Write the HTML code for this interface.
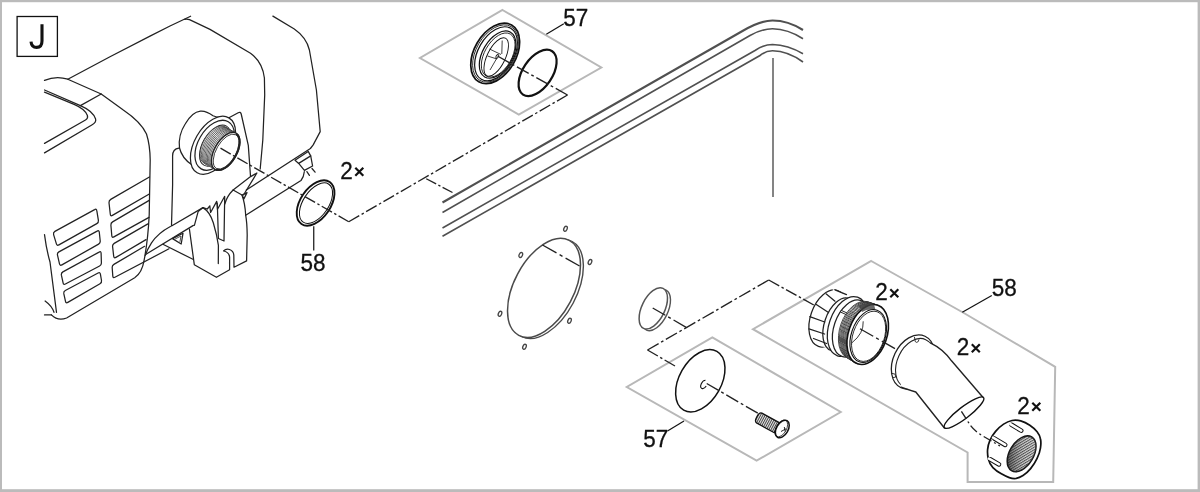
<!DOCTYPE html>
<html><head><meta charset="utf-8"><title>J</title>
<style>
html,body{margin:0;padding:0;background:#fff}
body{width:1200px;height:492px;overflow:hidden;position:relative;font-family:"Liberation Sans",sans-serif}
svg{position:absolute;left:0;top:0;display:block}
text{font-family:"Liberation Sans",sans-serif;fill:#111;stroke:#111;stroke-width:0.3}
.m{fill:none;stroke:#222;stroke-width:1.25;stroke-linecap:round;stroke-linejoin:round}
.t{fill:none;stroke:#505050;stroke-width:1.6;stroke-linecap:butt}
.g{fill:none;stroke:#b8b8b8;stroke-width:2.0;stroke-linejoin:miter}
.d{fill:none;stroke:#222;stroke-width:1.35;stroke-dasharray:12.8 3 2 3}
.k{fill:none;stroke:#111;stroke-width:1.2}
.w{fill:#fff;stroke:#222;stroke-width:1.25;stroke-linejoin:round}
</style></head><body>
<svg width="1200" height="492" viewBox="0 0 1200 492">
<defs>
<linearGradient id="ng" x1="0" y1="1" x2="1" y2="0"><stop offset="0" stop-color="#111" stop-opacity="0.95"/><stop offset="0.3" stop-color="#333" stop-opacity="0.45"/><stop offset="0.6" stop-color="#888" stop-opacity="0.1"/><stop offset="1" stop-color="#fff" stop-opacity="0.3"/></linearGradient>
<filter id="nf" x="0" y="0" width="1200" height="492" filterUnits="userSpaceOnUse"><feOffset dx="0" dy="0"/></filter>
<pattern id="hatch" width="2.2" height="2.2" patternUnits="userSpaceOnUse" patternTransform="rotate(-62)">
<rect width="2.2" height="2.2" fill="#ddd"/><rect width="2.2" height="1.0" fill="#444"/>
</pattern>
<pattern id="hatch2" width="2" height="2" patternUnits="userSpaceOnUse" patternTransform="rotate(-62)">
<rect width="2" height="2" fill="#e8e8e8"/><rect width="2" height="0.9" fill="#333"/>
</pattern>
</defs>
<g fill="#bbb">
<rect x="0" y="0" width="1200" height="2.2"/>
<rect x="0" y="0" width="2" height="492"/>
<rect x="1197.6" y="0" width="2.4" height="492"/>
<rect x="0" y="489.2" width="1200" height="2.8"/>
</g>
<rect x="17.1" y="16.5" width="40.3" height="39.9" fill="#fff" stroke="#111" stroke-width="1.3"/>
<path d="M42,24.2 V41 C42,45.5 40,47.4 36.6,47.4 C33.2,47.4 31.4,45.6 31,41.6" fill="none" stroke="#111" stroke-width="3.1"/>
<path class="g" d="M502.5,10 L601.3,67.5 L518.8,114.5 L420,58 Z"/>
<path class="g" d="M712.3,337.4 L840.7,412 L756.6,460.7 L626.8,387 Z"/>
<path class="g" d="M871.2,261 L963,312.5 L1055.2,366.8 L1053.2,482.1 L967.6,482.1 L967.6,452.5 L753,329.2 Z"/>
<g class="m">
<path d="M67.8,79.2 L110,56.8 L150,36.1 L170,26 L190.6,16.2"  />
<path d="M184.6,19.3 Q187,18.7 189.5,19.6 L210,29.4 L250.5,53.3 Q262.5,62 264.4,78 L264.7,95 L262.8,140 L260.2,169"  />
<path d="M272.9,16.1 L294.3,29 Q306.5,37.5 309.4,50 L316.4,90 L320.2,131.6 L313.2,144.9 L310.4,148.5 L246.3,190"  />
<path d="M44.5,80.4 Q56,75.5 67.8,79.2 L101.2,94 L123.3,110 Q141,122 146.5,134 Q150,145 150.2,160 L149.2,215 Q148,240 144.1,260.4 Q142,273 134.7,277.7 L66.6,318 Q58,321.5 51.4,314.9"  />
<path d="M101.2,94 L80.4,105.6"  />
<path d="M44.5,90 L80.4,105.6 Q93,111 95.6,119 Q96.5,122.5 91.8,125 L44.5,152.9"  />
<path d="M44.5,92.2 L74.1,104.4 Q85,109 87.4,115.5 Q88.3,118.5 85.5,120 L44.5,143.4"  />
<path d="M44.5,234.6 Q46.5,250 50,262 L56.5,312.3"  />
<path d="M45.1,301 Q52,306 54,312.3"  />
<path d="M44.5,314.9 L51.4,314.9"  />
<path d="M53.6,234.6 Q53.0,232.5 54.9,231.4 L94.6,209.6 Q96.5,208.5 96.8,210.7 L98.4,220.3 Q98.7,222.5 96.8,223.6 L58.9,244.9 Q57.0,246.0 56.4,243.9 Z"  />
<path d="M57.5,255.1 Q57.0,253.0 58.9,251.9 L97.1,231.1 Q99.0,230.0 99.3,232.2 L100.2,240.8 Q100.5,243.0 98.6,244.1 L61.9,264.9 Q60.0,266.0 59.5,263.9 Z"  />
<path d="M61.4,275.2 Q61.0,273.0 62.9,271.9 L99.1,252.1 Q101.0,251.0 101.1,253.2 L101.4,262.8 Q101.5,265.0 99.6,266.0 L65.4,284.0 Q63.5,285.0 63.1,282.8 Z"  />
<path d="M63.8,293.7 Q63.4,291.5 65.3,290.5 L98.1,273.0 Q100.0,272.0 100.4,274.2 L101.5,280.5 Q101.9,282.7 100.0,283.8 L67.8,302.4 Q65.9,303.5 65.5,301.3 Z"  />
<path d="M149.4,177.0 L110.7,199.4 Q108.8,200.5 109.0,202.7 L110.3,214.3 Q110.5,216.5 112.4,215.4 L149.3,194.0 "  />
<path d="M149.2,200.4 L112.6,221.9 Q110.7,223.0 110.9,225.2 L111.8,235.8 Q112.0,238.0 113.9,236.9 L149.0,217.4 "  />
<path d="M147.9,223.9 L114.2,243.4 Q112.3,244.5 112.6,246.7 L113.7,256.3 Q114.0,258.5 115.9,257.4 L146.0,239.6 "  />
<path d="M144.6,246.3 L113.9,264.4 Q112.0,265.5 112.2,267.7 L112.8,276.1 Q113.0,278.3 114.9,277.3 L169.0,248.8 "  />
<path d="M193.4,225.4 L146,254.3"  />
<path d="M178.9,148.2 Q172.6,149 172.6,156 L172.6,185 L171.5,226 L203,207.6"  />
<path d="M191.5,164.6 Q182,158 179.5,148 Q178,135 185.2,124 Q192,112 200.4,111.1 Q206,110.5 213,115.8 Q220,119 228,118.3"  />
<path d="M228,118.3 L238.2,112.7 Q240.5,111.5 241.2,114 L248.3,145.4 L250.5,176"  />
<path d="M170.4,226.5 Q158,233 151.5,242.9 Q147,250 145.2,255.5"  />
<path d="M194.4,225.3 L198.2,211.4 L203,207.6"  />
<path d="M203,207.6 Q210,212 213.3,222.7 Q217,235 218.4,245.4 L218.3,263.5"  />
<path d="M189.4,229 L194.3,264.7 L216.4,277.3 L229.6,269.8 L229.6,257 Q229,252 223.5,251 Q226,248.5 229.5,249.5 Q233.5,251 233.8,255 L234,267.2 L246.6,260.9 L247.2,235 Q247,222 245.7,215.3 Q245,203 242,195 L233.1,190 Q227,196 224.8,204"  />
<path d="M203,207.6 L207.3,209 L209.8,205.8 L210.6,212.5 L216.7,201.4 L217.4,209.5 L224.3,197 L224.7,196.5 L224,241 L218.4,238.5 L217.3,203"  />
<path d="M242,195 L247,192.6 L243.9,198.9 Z"  />
<path d="M233.1,190 L250.6,176.6 L256.9,173 L243.5,195"  />
<path d="M245.7,215.3 L301,180.5 Q303.8,177 304.3,171.7"  />
<path d="M162.9,244.3 L193.4,259.5"  />
<path d="M172.5,238.6 L183,233.3 L181.2,244 Z"  />
<path d="M175.5,238.8 L181,236 L180,241.5"  style="stroke-width:0.8"/>
<path d="M295,160.3 L308.2,151.4 L310.7,155.9 L298.7,163.4 Z"  />
<path d="M298.7,163.4 L304.4,170.4 L312.6,166 L310.7,155.9"  />
<path d="M306.9,171.6 L309.4,175.4 M312,168.5 L315.1,172.2"  />
</g>
<g>
<ellipse cx="213.0" cy="145.3" rx="18.6" ry="31.7" transform="rotate(30.0 213.0 145.3)" class="w" />
<ellipse cx="214.7" cy="145.3" rx="16.6" ry="27.2" transform="rotate(30.0 214.7 145.3)" class="w" />
<ellipse cx="215.2" cy="145.6" rx="12.6" ry="22.6" transform="rotate(30.0 215.2 145.6)" class="w" style="stroke-width:0.9"/>
<ellipse cx="214.4" cy="144.9" rx="11.1" ry="21.0" transform="rotate(30.0 214.4 144.9)"   fill="#fff" stroke="#222" stroke-width="0.65"/>
<ellipse cx="215.6" cy="145.6" rx="11.1" ry="21.0" transform="rotate(30.0 215.6 145.6)"   fill="#fff" stroke="#222" stroke-width="0.65"/>
<ellipse cx="216.8" cy="146.3" rx="11.1" ry="21.0" transform="rotate(30.0 216.8 146.3)"   fill="#fff" stroke="#222" stroke-width="0.65"/>
<ellipse cx="218.0" cy="147.0" rx="11.1" ry="21.0" transform="rotate(30.0 218.0 147.0)"   fill="#fff" stroke="#222" stroke-width="0.65"/>
<ellipse cx="219.2" cy="147.7" rx="11.1" ry="21.0" transform="rotate(30.0 219.2 147.7)"   fill="#fff" stroke="#222" stroke-width="0.65"/>
<ellipse cx="220.4" cy="148.3" rx="11.1" ry="21.0" transform="rotate(30.0 220.4 148.3)"   fill="#fff" stroke="#222" stroke-width="0.65"/>
<ellipse cx="221.6" cy="149.0" rx="11.1" ry="21.0" transform="rotate(30.0 221.6 149.0)"   fill="#fff" stroke="#222" stroke-width="0.65"/>
<ellipse cx="222.8" cy="149.7" rx="11.1" ry="21.0" transform="rotate(30.0 222.8 149.7)"   fill="#fff" stroke="#222" stroke-width="0.65"/>
<ellipse cx="224.0" cy="150.4" rx="11.1" ry="21.0" transform="rotate(30.0 224.0 150.4)"   fill="#fff" stroke="#222" stroke-width="0.65"/>
<ellipse cx="225.2" cy="151.1" rx="11.1" ry="21.0" transform="rotate(30.0 225.2 151.1)"   fill="#fff" stroke="#222" stroke-width="0.65"/>
<ellipse cx="225.7" cy="151.4" rx="11.1" ry="21.0" transform="rotate(30.0 225.7 151.4)" class="w" style="stroke-width:1.3"/>
<ellipse cx="226.1" cy="151.6" rx="9.8" ry="19.4" transform="rotate(30.0 226.1 151.6)"  fill="none" stroke="#222" stroke-width="0.8"/>
<path d="M236.0,133.6 A10.6,20.4 30 0 1 215.6,169.3"  fill="none" stroke="#222" stroke-width="2.0"/>
</g>
<g class="t">
<path d="M442.5,202.5 L742.5,31 Q760,20.5 772.5,20.5 Q788,20.5 803,30"  style="stroke-width:2.1"/>
<path d="M442.5,212.5 L750,35.5 Q762,28.75 772.5,28.75 Q788,29 803,38.75"  />
<path d="M442.5,228 L755,50.5 Q764,44.5 772.5,44.5 Q788,45 803,53.75"  />
<path d="M442.5,236.25 L760,55.5 Q766,50.75 772.5,50.75 Q788,51 803,62"  />
<path d="M773,58 L773,197"  style="stroke-width:1.4"/>
</g>
<g>
<ellipse cx="495.2" cy="53.4" rx="20.9" ry="32.8" transform="rotate(30.0 495.2 53.4)"  fill="#fff" stroke="#111" stroke-width="1.7"/>
<ellipse cx="495.5" cy="53.5" rx="19.4" ry="31.1" transform="rotate(30.0 495.5 53.5)"  fill="none" stroke="#111" stroke-width="0.8"/>
<ellipse cx="496.0" cy="53.8" rx="17.9" ry="29.4" transform="rotate(30.0 496.0 53.8)"  fill="none" stroke="#111" stroke-width="1.2"/>
<ellipse cx="497.6" cy="54.6" rx="15.0" ry="25.8" transform="rotate(30.0 497.6 54.6)"  fill="none" stroke="#111" stroke-width="1.2"/>
<ellipse cx="498.2" cy="55.0" rx="13.6" ry="24.2" transform="rotate(30.0 498.2 55.0)"  fill="none" stroke="#111" stroke-width="0.8"/>
<ellipse cx="496.2" cy="57.0" rx="9.0" ry="21.0" transform="rotate(26.0 496.2 57.0)"  fill="none" stroke="#111" stroke-width="0.9"/>
<path d="M502.2,40.5 L501.8,54 M489.5,49 L501,54.5 M487.5,56 L497,59 M497.5,57 L490,70"  fill="none" stroke="#111" stroke-width="0.8"/>
<ellipse cx="497.3" cy="56.3" rx="1.2" ry="2.0" transform="rotate(30.0 497.3 56.3)"  fill="#fff" stroke="#111" stroke-width="0.9"/>
<ellipse cx="537.6" cy="72.9" rx="14.7" ry="26.1" transform="rotate(34.0 537.6 72.9)"  fill="none" stroke="#111" stroke-width="2.2"/>
<ellipse cx="315.6" cy="203.0" rx="15.1" ry="25.3" transform="rotate(34.0 315.6 203.0)"  fill="none" stroke="#111" stroke-width="1.9"/>
<ellipse cx="316.0" cy="203.2" rx="12.7" ry="22.9" transform="rotate(34.0 316.0 203.2)"  fill="none" stroke="#111" stroke-width="1.0"/>
<ellipse cx="546.9" cy="289.0" rx="29.8" ry="53.8" transform="rotate(28.0 546.9 289.0)"  fill="none" stroke="#4a4a4a" stroke-width="1.4"/>
<ellipse cx="544.0" cy="287.8" rx="29.8" ry="53.8" transform="rotate(28.0 544.0 287.8)"  fill="#fff" stroke="#4a4a4a" stroke-width="1.5"/>
<ellipse cx="565.5" cy="228.8" rx="1.6" ry="2.6" transform="rotate(25.0 565.5 228.8)"  fill="#fff" stroke="#444" stroke-width="1.3"/>
<ellipse cx="520.8" cy="255.0" rx="1.6" ry="2.6" transform="rotate(25.0 520.8 255.0)"  fill="#fff" stroke="#444" stroke-width="1.3"/>
<ellipse cx="590.0" cy="262.0" rx="1.6" ry="2.6" transform="rotate(25.0 590.0 262.0)"  fill="#fff" stroke="#444" stroke-width="1.3"/>
<ellipse cx="500.0" cy="313.8" rx="1.6" ry="2.6" transform="rotate(25.0 500.0 313.8)"  fill="#fff" stroke="#444" stroke-width="1.3"/>
<ellipse cx="569.5" cy="320.8" rx="1.6" ry="2.6" transform="rotate(25.0 569.5 320.8)"  fill="#fff" stroke="#444" stroke-width="1.3"/>
<ellipse cx="524.5" cy="346.8" rx="1.6" ry="2.6" transform="rotate(25.0 524.5 346.8)"  fill="#fff" stroke="#444" stroke-width="1.3"/>
<ellipse cx="656.3" cy="310.1" rx="11.5" ry="22.2" transform="rotate(26.0 656.3 310.1)"  fill="none" stroke="#555" stroke-width="1.4"/>
<ellipse cx="653.3" cy="308.4" rx="11.5" ry="22.2" transform="rotate(26.0 653.3 308.4)"  fill="#fff" stroke="#555" stroke-width="1.5"/>
<ellipse cx="700.3" cy="380.8" rx="21.0" ry="33.7" transform="rotate(29.5 700.3 380.8)"  fill="#fff" stroke="#111" stroke-width="1.5"/>
<path d="M705.5,380.2 A2.7,4.6 30 1 0 706.2,386"  fill="none" stroke="#111" stroke-width="1.1"/>
<path d="M779.7,422.9 L761.9,413.1 A2.8,5.6 29 0 0 756.5,422.9 L774.3,432.7 Z"  fill="url(#hatch2)" stroke="#111" stroke-width="1.3" stroke-linejoin="round"/>
<ellipse cx="782.3" cy="429.0" rx="5.8" ry="9.6" transform="rotate(30.0 782.3 429.0)"  fill="#fff" stroke="#111" stroke-width="1.5"/>
<ellipse cx="781.2" cy="428.4" rx="5.2" ry="9.2" transform="rotate(30.0 781.2 428.4)"  fill="none" stroke="#111" stroke-width="0.7"/>
<path d="M781,431.5 L786,428.8 M784.3,427 L785.2,431.5"  fill="none" stroke="#111" stroke-width="0.9"/>
<ellipse cx="828.0" cy="318.5" rx="17.5" ry="29.5" transform="rotate(19.0 828.0 318.5)" class="w" />
<path d="M833,289 L846,295 L838,350 L820,346 Z"  fill="#fff" stroke="none"/>
<path d="M835,289.8 L846.5,294.6" class="m" />
<ellipse cx="840.0" cy="324.5" rx="15.5" ry="27.5" transform="rotate(19.0 840.0 324.5)" class="w" />
<path d="M826,293.8 L835,301.2 M816.3,304.4 L828.5,312.6 M809.8,316.6 L824.7,322 M809,328.9 L824.6,334 M813.5,338.5 L826.6,343.5" class="m" />
<ellipse cx="847.5" cy="326.5" rx="18.5" ry="31.0" transform="rotate(19.0 847.5 326.5)" class="w" />
<ellipse cx="851.5" cy="328.5" rx="17.5" ry="29.5" transform="rotate(19.0 851.5 328.5)" class="w" />
<ellipse cx="858.5" cy="330.3" rx="18.6" ry="30.0" transform="rotate(19.0 858.5 330.3)"  fill="#fff" stroke="#222" stroke-width="0.75"/>
<ellipse cx="859.6" cy="330.8" rx="18.7" ry="30.1" transform="rotate(19.0 859.6 330.8)"  fill="#fff" stroke="#222" stroke-width="0.75"/>
<ellipse cx="860.7" cy="331.3" rx="18.7" ry="30.2" transform="rotate(19.0 860.7 331.3)"  fill="#fff" stroke="#222" stroke-width="0.75"/>
<ellipse cx="861.8" cy="331.8" rx="18.8" ry="30.4" transform="rotate(19.0 861.8 331.8)"  fill="#fff" stroke="#222" stroke-width="0.75"/>
<ellipse cx="862.9" cy="332.3" rx="18.9" ry="30.5" transform="rotate(19.0 862.9 332.3)"  fill="#fff" stroke="#222" stroke-width="0.75"/>
<ellipse cx="863.9" cy="332.8" rx="19.0" ry="30.6" transform="rotate(19.0 863.9 332.8)"  fill="#fff" stroke="#222" stroke-width="0.75"/>
<ellipse cx="865.0" cy="333.3" rx="19.0" ry="30.8" transform="rotate(19.0 865.0 333.3)"  fill="#fff" stroke="#222" stroke-width="0.75"/>
<ellipse cx="866.1" cy="333.8" rx="19.1" ry="30.9" transform="rotate(19.0 866.1 333.8)"  fill="#fff" stroke="#222" stroke-width="0.75"/>
<ellipse cx="867.2" cy="334.3" rx="19.2" ry="31.0" transform="rotate(19.0 867.2 334.3)"  fill="#fff" stroke="#222" stroke-width="0.75"/>
<ellipse cx="867.7" cy="334.5" rx="19.2" ry="31.0" transform="rotate(19.0 867.7 334.5)"  fill="#fff" stroke="#111" stroke-width="1.6"/>
<path d="M858.5,305.5 Q866,301.8 874,304.6 L875.5,310 Q868,308.5 862,312 Z"  fill="#444" stroke="none" opacity="0.8"/>
<ellipse cx="868.2" cy="336.0" rx="16.9" ry="27.3" transform="rotate(19.0 868.2 336.0)"  fill="#fff" stroke="#111" stroke-width="1.1"/>
<ellipse cx="868.6" cy="336.3" rx="15.7" ry="26.0" transform="rotate(19.0 868.6 336.3)"  fill="none" stroke="#111" stroke-width="0.8"/>
<path d="M863.2,321.3 Q863.9,333.4 851.9,342.8"  fill="none" stroke="#222" stroke-width="0.9"/>
<path d="M841.5,311.5 L846,313.5"  fill="none" stroke="#222" stroke-width="2.6" stroke-linecap="round"/>
<path d="M841.5,311.5 L846,313.5"  fill="none" stroke="#fff" stroke-width="1.0" stroke-linecap="round"/>
<ellipse cx="913.0" cy="362.0" rx="19.9" ry="28.4" transform="rotate(25.0 913.0 362.0)"  fill="#fff" stroke="#222" stroke-width="1.3"/>
<ellipse cx="914.8" cy="363.1" rx="17.5" ry="25.9" transform="rotate(25.0 914.8 363.1)"  fill="#fff" stroke="#222" stroke-width="1.1"/>
<path d="M930.3,342.9 Q943,348 951.5,360.8 L983.3,397.7 L944.2,427.7 L915.8,392 Q908,388 901.2,387.1 L898,365 L915,340 Z"  fill="#fff" stroke="none"/>
<path d="M930.3,342.9 Q943,349 951.5,360.8 L983.3,397.7 M944.2,427.7 L915.8,392 Q908,389.8 901.2,387.1" class="m" style="stroke-width:1.4"/>
<path d="M914.5,337.3 L915.2,341.5 Q916.5,343.3 918.3,341.5 L918.8,339.8" class="m" style="stroke-width:0.9"/>
<path d="M891.3,373.2 L895.2,374.2 L895.6,377.2 L892.5,377.6" class="m" style="stroke-width:0.9"/>
<ellipse cx="964.0" cy="412.7" rx="24.7" ry="5.7" transform="rotate(-37.5 964.0 412.7)"  fill="#fff" stroke="#111" stroke-width="1.4"/>
<path d="M988.4,459.1 Q987.2,454.2 987.6,449.6 Q988.0,445.0 989.9,440.4 Q991.8,435.9 995.6,431.4 Q999.4,426.8 1003.6,424.1 Q1007.8,421.4 1012.0,420.5 Q1016.1,419.6 1020.7,420.9 Q1025.3,422.2 1029.8,425.2 Q1034.4,428.3 1037.1,431.7 Q1039.8,435.1 1040.5,439.0 Q1041.3,442.8 1040.5,447.8 Q1039.8,452.7 1037.1,458.4 Q1034.4,464.1 1030.6,468.6 Q1026.8,473.2 1023.0,475.5 Q1019.2,477.8 1016.2,478.4 Q1013.1,478.9 1009.3,477.6 Q1005.5,476.3 1000.9,473.6 Q996.3,471.0 992.9,467.6 Q989.5,464.1 988.4,459.1 Z"  fill="#fff" stroke="#111" stroke-width="1.7"/>
<ellipse cx="1021.6" cy="453.8" rx="11.9" ry="19.6" transform="rotate(31.0 1021.6 453.8)"  fill="url(#hatch)" stroke="#111" stroke-width="1.6"/>
<ellipse cx="1021.6" cy="453.8" rx="11.9" ry="19.6" transform="rotate(31.0 1021.6 453.8)"  fill="url(#ng)" stroke="none"/>
<path d="M1011.6,424.8 L1021.2,430.6"  fill="none" stroke="#111" stroke-width="4.6" stroke-linecap="round"/>
<path d="M1010.4,424.1 L1021.2,430.6"  fill="none" stroke="#fff" stroke-width="2.6" stroke-linecap="round"/>
<path d="M994.3,438.4 L1005.2,444.9"  fill="none" stroke="#111" stroke-width="4.6" stroke-linecap="round"/>
<path d="M993.1,437.7 L1005.2,444.9"  fill="none" stroke="#fff" stroke-width="2.6" stroke-linecap="round"/>
<path d="M990.2,459.3 L999.0,464.4"  fill="none" stroke="#111" stroke-width="4.6" stroke-linecap="round"/>
<path d="M989.0,458.6 L999.0,464.4"  fill="none" stroke="#fff" stroke-width="2.6" stroke-linecap="round"/>
</g>
<g class="d">
<path d="M220.50,148.20 L348.75,221.75" stroke-dasharray="11.78 2.62 2.43 2.62"/>
<path d="M348.75,221.75 L567.50,95.00" stroke-dasharray="12.15 2.70 2.51 2.70"/>
<path d="M567.50,95.00 L497.50,56.00" stroke-dasharray="13.46 2.99 2.78 2.99"/>
<path d="M426.25,178.75 L452.50,192.50" stroke-dasharray="11.18 2.48 2.31 2.48"/>
<path d="M542.50,245.00 L579.60,266.00" stroke-dasharray="16.08 3.57 3.32 3.57"/>
<path d="M652.70,308.00 L686.20,327.30" stroke-dasharray="14.59 3.24 3.01 3.24"/>
<path d="M706.70,383.50 L757.80,413.20" stroke-dasharray="13.74 3.05 2.84 3.05"/>
<path d="M675.00,366.00 L647.50,350.00" stroke-dasharray="12.00 2.67 2.48 2.67"/>
<path d="M647.50,350.00 L768.75,280.00" stroke-dasharray="12.84 2.85 2.65 2.85"/>
<path d="M768.75,280.00 L813.75,305.00" stroke-dasharray="11.97 2.66 2.47 2.66"/>
<path d="M860.00,328.75 L895.00,348.70" stroke-dasharray="15.20 3.38 3.14 3.38"/>
<path d="M961.4,411.4 L968.6,422.6 Q973,430 982,435.5 L1000,446"  stroke-dasharray="9 3 2 3"/>
</g>
<g filter="url(#nf)">
<text font-size="22.5" transform="translate(563.2,26.0) scale(1,1.05)">57</text>
<path d="M563.8,23.8 L546.3,34.3" class="k"/>
<text font-size="22.5" transform="translate(300.6,270.9) scale(1,1.05)">58</text>
<path d="M313.75,226.3 L313.75,250.5" class="k"/>
<text font-size="22.5" transform="translate(340.2,178.8) scale(1,1.05)">2</text>
<path d="M355.3,167.7 L363.3,175.7 M355.3,175.7 L363.3,167.7" fill="none" stroke="#111" stroke-width="2.2"/>
<text font-size="22.5" transform="translate(991.8,295.9) scale(1,1.05)">58</text>
<path d="M991.8,295.4 L962.3,312.2" class="k"/>
<text font-size="22.5" transform="translate(643.3,446.9) scale(1,1.05)">57</text>
<path d="M667.5,431 L684,421" class="k"/>
<text font-size="22.5" transform="translate(875.2,300.3) scale(1,1.05)">2</text>
<path d="M890.3,289.2 L898.3,297.2 M890.3,297.2 L898.3,289.2" fill="none" stroke="#111" stroke-width="2.2"/>
<text font-size="22.5" transform="translate(956.7,355.3) scale(1,1.05)">2</text>
<path d="M971.8,344.2 L979.8,352.2 M971.8,352.2 L979.8,344.2" fill="none" stroke="#111" stroke-width="2.2"/>
<text font-size="22.5" transform="translate(1017.2,413.8) scale(1,1.05)">2</text>
<path d="M1032.3,402.7 L1040.3,410.7 M1032.3,410.7 L1040.3,402.7" fill="none" stroke="#111" stroke-width="2.2"/>
</g>
</svg>
</body></html>
